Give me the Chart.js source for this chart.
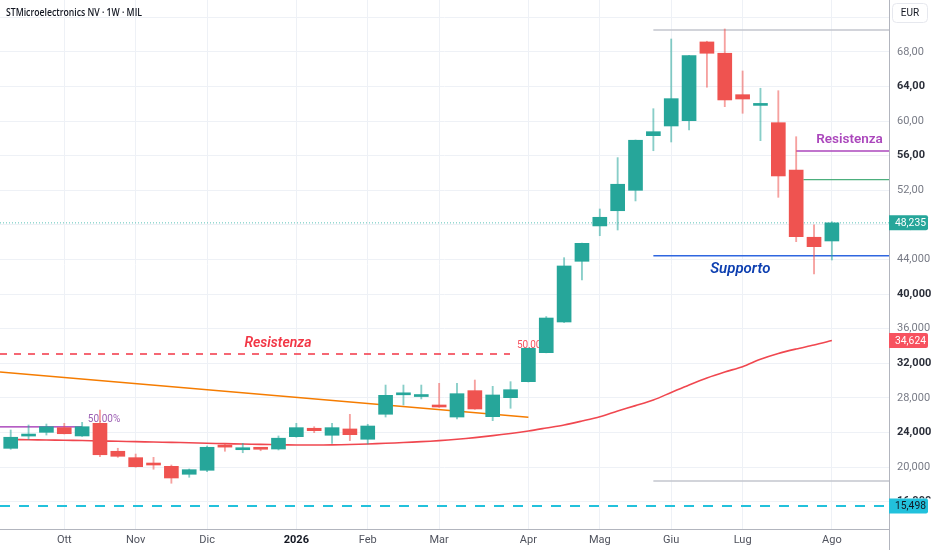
<!DOCTYPE html>
<html>
<head>
<meta charset="utf-8">
<script src="https://cdn.jsdelivr.net/npm/chart.js@4.4.1/dist/chart.umd.min.js"></script>
<style>
  html, body { margin: 0; padding: 0; background: #fff; }
  #wrap { width: 932px; height: 550px; position: relative; }
</style>
</head>
<body>
<div id="wrap"><canvas id="c"></canvas></div>
<script>
// weekly candles, index 0 = first visible week (late Sep 2025)
const opens  = [22.16, 23.58, 24.01, 24.55, 23.59, 25.05, 21.82, 21.08, 20.43, 20.08,
                19.16, 19.62, 22.40, 22.00, 22.12, 22.08, 23.51, 24.48, 23.67, 24.40,
                23.21, 26.10, 28.35, 28.15, 27.17, 25.78, 28.83, 25.82, 28.02, 29.87,
                33.22, 36.77, 43.79, 47.88, 49.64, 52.00, 58.32, 59.44, 60.05, 69.16,
                67.85, 63.06, 61.82, 59.82, 54.35, 46.57, 46.14];
const highs  = [24.28, 24.86, 24.97, 25.05, 25.17, 26.59, 22.17, 21.50, 21.12, 20.23,
                19.77, 22.43, 22.74, 22.74, 22.23, 23.59, 25.05, 24.66, 25.05, 26.09,
                24.94, 29.48, 29.48, 29.48, 29.68, 29.68, 30.06, 29.33, 29.87, 33.76,
                37.40, 44.21, 45.90, 49.84, 55.78, 57.82, 61.44, 69.50, 67.60, 69.24,
                70.66, 65.80, 63.80, 63.52, 58.20, 48.00, 48.37];
const lows   = [22.05, 23.20, 23.70, 23.82, 23.53, 21.19, 21.12, 19.97, 19.74, 18.12,
                18.81, 19.46, 21.82, 21.65, 21.88, 21.97, 23.44, 23.97, 22.74, 23.05,
                22.66, 25.78, 27.17, 27.87, 26.90, 25.55, 26.67, 25.36, 26.79, 29.83,
                33.20, 36.70, 41.63, 46.75, 47.41, 50.77, 56.58, 57.59, 58.98, 63.92,
                61.67, 60.91, 57.74, 51.19, 46.06, 42.32, 43.94];
const closes = [23.44, 23.70, 24.66, 23.85, 24.66, 21.42, 21.24, 20.04, 20.23, 18.73,
                19.69, 22.28, 22.30, 22.10, 22.05, 23.33, 24.55, 24.20, 24.55, 23.74,
                24.74, 28.29, 28.45, 28.25, 26.94, 28.48, 26.71, 28.33, 28.94, 33.73,
                37.23, 43.25, 45.87, 48.88, 52.70, 57.79, 58.78, 62.60, 67.57, 67.85,
                62.45, 62.56, 61.92, 53.66, 46.64, 45.48, 48.235];
// moving average
const maValues = [23.18, 23.15, 23.12, 23.09, 23.06, 23.01, 22.98, 22.93, 22.89, 22.85,
                  22.80, 22.74, 22.70, 22.66, 22.62, 22.58, 22.55, 22.55, 22.56, 22.60,
                  22.66, 22.74, 22.83, 22.93, 23.05, 23.21, 23.40, 23.63, 23.88, 24.17,
                  24.51, 24.86, 25.32, 25.82, 26.48, 27.10, 27.75, 28.62, 29.49, 30.30,
                  30.99, 31.60, 32.46, 33.13, 33.65, 34.11, 34.624];

const monthTicks  = [3, 7, 11, 16, 20, 24, 29, 33, 37, 41, 46];
const monthLabels = ['Ott', 'Nov', 'Dic', '2026', 'Feb', 'Mar', 'Apr', 'Mag', 'Giu', 'Lug', 'Ago'];
const yTicks = [16, 20, 24, 28, 32, 36, 40, 44, 48, 52, 56, 60, 64, 68, 72];
const xRange = [-0.6, 49.2];
const yRange = [12.83, 74.01];

// drawings
const trendX = [-0.6, 29.0];
const trendY = [31.0, 25.75];
const levelValues = [33.07, 24.63, 70.54, 18.38, 56.55, 53.23, 44.44, 15.498, 48.235];
const levelFrom   = [-0.6, -0.6, 36, 36, 44.0, 44.4, 36, -0.6, -0.6];
const levelTo     = [27.97, 4.0, 49.2, 49.2, 49.2, 49.2, 49.2, 49.2, 49.2];
const levelStyles = [
  { color: '#f23645', width: 1.3, dash: [7, 7] },
  { color: '#9c27b0', width: 1.3, dash: [] },
  { color: '#c3c6ce', width: 1.5, dash: [] },
  { color: '#c3c6ce', width: 1.5, dash: [] },
  { color: '#ab47bc', width: 1.5, dash: [] },
  { color: '#4caf7d', width: 1.3, dash: [] },
  { color: '#2f66e0', width: 1.5, dash: [] },
  { color: '#22c1dc', width: 2, dash: [10, 9] },
  { color: '#5cc2b8', width: 1, dash: [1, 2] }
];

const noteTexts = ['Resistenza', '50,00', '50.00%', 'Resistenza', 'Supporto'];
const noteX = [14.97, 28.36, 4.32, 46.99, 40.87];
const noteY = [34.34, 34.11, 25.55, 57.90, 42.90];
const noteStyles = [
  { color: '#f23645', font: 'italic 600 14px Roboto', align: 'center' },
  { color: '#f7525f', font: '10px Roboto', align: 'left' },
  { color: '#9c5fb3', font: '10px Roboto', align: 'left' },
  { color: '#ab47bc', font: '600 13.5px Roboto', align: 'center' },
  { color: '#0d3fb0', font: 'italic 600 15px Roboto', align: 'center' }
];

const priceTags = [48.235, 34.624, 15.498];
const tagStyles = [
  { bg: '#26a69a', fg: '#ffffff' },
  { bg: '#f7525f', fg: '#ffffff' },
  { bg: '#22c1dc', fg: '#131722' }
];

const UP = '#26a69a', DOWN = '#ef5350';
const isUp = closes.map((c, i) => c >= opens[i]);

const datasets = [
  {
    type: 'bar',
    data: opens.map((o, i) => ({ x: i, y: [o, closes[i]] })),
    backgroundColor: isUp.map(u => u ? UP : DOWN),
    barThickness: 14,
    minBarLength: 2,
    grouped: false,
    order: 0
  },
  {
    type: 'bar',
    data: lows.map((l, i) => ({ x: i, y: [l, highs[i]] })),
    backgroundColor: isUp.map(u => u ? 'rgba(38,166,154,0.55)' : 'rgba(239,83,80,0.55)'),
    barThickness: 1.2,
    grouped: false,
    order: 1
  },
  {
    type: 'line',
    data: maValues.map((v, i) => ({ x: i, y: v })),
    borderColor: '#f0474f',
    borderWidth: 1.6,
    pointRadius: 0,
    tension: 0.3,
    order: 3
  },
  {
    type: 'line',
    data: trendX.map((x, i) => ({ x: x, y: trendY[i] })),
    borderColor: '#f57c00',
    borderWidth: 1.5,
    pointRadius: 0,
    order: 4
  }
];
levelValues.forEach((v, k) => {
  datasets.push({
    type: 'line',
    data: [{ x: levelFrom[k], y: v }, { x: levelTo[k], y: v }],
    borderColor: levelStyles[k].color,
    borderWidth: levelStyles[k].width,
    borderDash: levelStyles[k].dash,
    pointRadius: 0,
    order: 5 + k
  });
});

function fmt(v, d) { return v.toFixed(d).replace('.', ','); }

function noPadding(s) {
  s.paddingTop = 0; s.paddingBottom = 0; s.paddingLeft = 0; s.paddingRight = 0;
}

const overlay = {
  id: 'overlay',
  beforeDatasetsDraw(chart) {
    const ctx = chart.ctx, xs = chart.scales.x, ys = chart.scales.y;
    ctx.save();
    ctx.textBaseline = 'middle';
    noteTexts.forEach((t, k) => {
      ctx.font = noteStyles[k].font;
      ctx.fillStyle = noteStyles[k].color;
      ctx.textAlign = noteStyles[k].align;
      ctx.fillText(t, xs.getPixelForValue(noteX[k]), ys.getPixelForValue(noteY[k]));
    });
    ctx.restore();
  },
  afterDraw(chart) {
    const ctx = chart.ctx, ys = chart.scales.y, area = chart.chartArea;
    ctx.save();
    // axis line continues under the time axis
    ctx.strokeStyle = '#b2b5be';
    ctx.lineWidth = 1;
    ctx.beginPath();
    ctx.moveTo(area.right + 0.5, area.bottom);
    ctx.lineTo(area.right + 0.5, chart.height);
    ctx.stroke();

    // title
    ctx.font = '600 10.5px "Open Sans"';
    ctx.fillStyle = '#131722';
    ctx.textAlign = 'left';
    ctx.textBaseline = 'middle';
    ctx.fillText('STMicroelectronics NV \u00b7 1W \u00b7 MIL', 6, 13, 136);

    // currency box
    ctx.fillStyle = '#ffffff';
    ctx.strokeStyle = '#e6e8ee';
    ctx.beginPath();
    ctx.roundRect(area.right + 3.5, 3.5, 35, 19, 4);
    ctx.fill();
    ctx.stroke();
    ctx.fillStyle = '#131722';
    ctx.font = '10px Roboto';
    ctx.textAlign = 'center';
    ctx.fillText('EUR', area.right + 21, 13.5);

    // price tags
    priceTags.forEach((v, k) => {
      const y = ys.getPixelForValue(v);
      ctx.fillStyle = '#ffffff';
      ctx.fillRect(area.right + 1, y - 7.5, chart.width - area.right - 1, 15);
      ctx.fillStyle = tagStyles[k].bg;
      ctx.beginPath();
      ctx.roundRect(area.right, y - 7.5, 39, 15, [0, 2, 2, 0]);
      ctx.fill();
      ctx.fillStyle = tagStyles[k].fg;
      ctx.font = '10.5px Roboto';
      ctx.textAlign = 'left';
      ctx.fillText(fmt(v, 3), area.right + 6, y + 0.5, 31);
    });
    ctx.restore();
  }
};

new Chart(document.getElementById('c'), {
  type: 'bar',
  data: { datasets: datasets },
  options: {
    responsive: true,
    maintainAspectRatio: false,
    animation: false,
    layout: { padding: 0 },
    plugins: { legend: { display: false }, tooltip: { enabled: false } },
    scales: {
      x: {
        type: 'linear',
        min: xRange[0],
        max: xRange[1],
        offset: false,
        grid: { color: '#eef1f6', drawTicks: false, offset: false },
        border: { color: '#b2b5be', width: 1 },
        afterBuildTicks: s => { s.ticks = monthTicks.map(v => ({ value: v })); },
        afterFit: s => { s.height = 21; noPadding(s); },
        ticks: {
          padding: 5,
          maxRotation: 0,
          autoSkip: false,
          callback: v => { const k = monthTicks.indexOf(v); return k >= 0 ? monthLabels[k] : ''; },
          font: c => ({ family: 'Roboto', size: 11, weight: c.tick && c.tick.value === 16 ? 'bold' : 'normal' }),
          color: c => (c.tick && c.tick.value === 16 ? '#131722' : '#50535e')
        }
      },
      y: {
        position: 'right',
        min: yRange[0],
        max: yRange[1],
        grid: { color: '#eef1f6', drawTicks: false },
        border: { color: '#b2b5be', width: 1 },
        afterBuildTicks: s => { s.ticks = yTicks.map(v => ({ value: v })); },
        afterFit: s => { s.width = 43; noPadding(s); },
        ticks: {
          padding: 8,
          callback: v => (v === 72 ? '' : fmt(v, v >= 50 ? 2 : 3)),
          font: c => ({ family: 'Roboto', size: 11, weight: c.tick && c.tick.value % 8 === 0 ? 'bold' : 'normal' }),
          color: c => (c.tick && c.tick.value % 8 === 0 ? '#2a2e39' : '#787b86')
        }
      }
    }
  },
  plugins: [overlay]
});
</script>
</body>
</html>
